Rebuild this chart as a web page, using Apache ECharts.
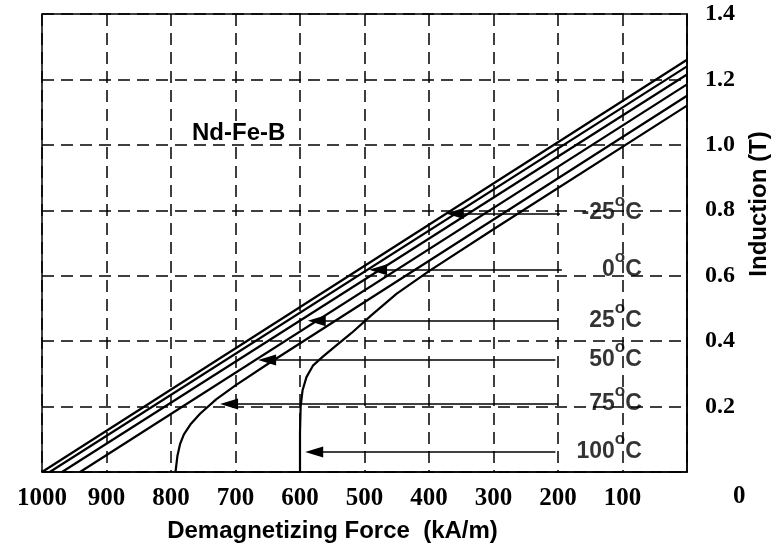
<!DOCTYPE html>
<html>
<head>
<meta charset="utf-8">
<script src="https://cdn.jsdelivr.net/npm/echarts@6/dist/echarts.min.js"></script>
<style>
  html, body { margin: 0; padding: 0; background: #fff; }
  #chart { width: 776px; height: 550px; }
</style>
</head>
<body>
<div id="chart"></div>
<script>
// demagnetization curves of Nd-Fe-B at several temperatures
// H in kA/m (axis runs 1000 -> 0), B in T
var tempLabels = ['-25', '0', '25', '50', '75', '100'];

var curveM25 = [[0, 1.26], [1000, 0]];
var curve0 = [[0, 1.24], [988, 0]];
var curve25 = [[0, 1.215], [969, 0]];
var curve50 = [[0, 1.185], [941, 0]];
var curve75 = [[0, 1.15], [650, 0.33], [700, 0.265], [730, 0.222], [755, 0.178], [770, 0.145],
               [780, 0.115], [786, 0.085], [790, 0.05], [793, 0]];
var curve100 = [[0, 1.12], [300, 0.742], [400, 0.614], [450, 0.545], [490, 0.478], [520, 0.425],
                [545, 0.385], [565, 0.352], [580, 0.325], [590, 0.29], [596, 0.25], [599, 0.2],
                [600, 0.12], [600, 0]];

// pointer arrows: level B, start (arrow) H, end H
var pointerB = [0.79, 0.618, 0.462, 0.342, 0.208, 0.061];
var pointerStartH = [360, 479, 574, 651, 710, 578];
var pointerEndH = [197, 194, 200, 204, 200, 204];

var xTicks = [1000, 900, 800, 700, 600, 500, 400, 300, 200, 100, 0];
var yTicks = [0, 0.2, 0.4, 0.6, 0.8, 1.0, 1.2, 1.4];

var chart = echarts.init(document.getElementById('chart'));

var sans = '"Liberation Sans", Arial, sans-serif';
var serif = '"Liberation Serif", "Times New Roman", serif';

var curves = [curveM25, curve0, curve25, curve50, curve75, curve100];

var series = curves.map(function (c, i) {
    return {
        name: tempLabels[i] + '°C',
        type: 'line',
        data: c,
        symbol: 'none',
        lineStyle: { color: '#000', width: 2.2 },
        markLine: {
            silent: true,
            symbol: ['triangle', 'none'],
            symbolSize: [11, 18],
            lineStyle: { color: '#000', width: 1.5, type: 'solid' },
            label: { show: false },
            data: [[{ coord: [pointerStartH[i], pointerB[i]] }, { coord: [pointerEndH[i], pointerB[i]] }]]
        }
    };
});

// temperature labels next to the pointers
series.push({
    type: 'scatter',
    symbolSize: 0,
    silent: true,
    data: pointerB.map(function (b) { return [70, b]; }),
    label: {
        show: true,
        position: 'left',
        distance: 0,
        offset: [0, -5],
        formatter: function (p) {
            return '{t|' + tempLabels[p.dataIndex] + '}{s|o}{t|C}';
        },
        rich: {
            t: { fontFamily: sans, fontWeight: 'bold', fontSize: 23, color: '#000', lineHeight: 32, verticalAlign: 'bottom' },
            s: { fontFamily: sans, fontWeight: 'bold', fontSize: 17, color: '#000', verticalAlign: 'top' }
        }
    }
});

var option = {
    animation: false,
    backgroundColor: '#fff',
    grid: {
        left: 42, right: 89, top: 14, bottom: 78,
        outerBoundsMode: 'none',
        containLabel: false,
        show: true, borderColor: '#000', borderWidth: 1.5
    },
    xAxis: {
        type: 'value',
        inverse: true,
        min: 0, max: 1000, interval: 100,
        name: 'Demagnetizing Force  (kA/m)',
        nameLocation: 'middle',
        nameGap: 47,
        nameTextStyle: {
            fontFamily: sans, fontWeight: 'bold', fontSize: 24, color: '#000',
            padding: [0, 64, 0, 0]
        },
        axisLine: { lineStyle: { color: '#000', width: 1.5 } },
        axisTick: { show: false },
        axisLabel: {
            margin: 14,
            fontFamily: serif, fontWeight: 'bold', fontSize: 25, color: '#000',
            formatter: function (v) { return xTicks.indexOf(v) >= 0 && v !== 0 ? String(v) : ''; }
        },
        splitLine: { lineStyle: { color: '#000', width: 1.5, type: [12, 7] } }
    },
    yAxis: {
        type: 'value',
        position: 'right',
        min: 0, max: 1.4, interval: 0.2,
        name: 'Induction (T)',
        nameLocation: 'middle',
        nameGap: 60,
        nameTextStyle: {
            fontFamily: sans, fontWeight: 'bold', fontSize: 24, color: '#000',
            padding: [0, 0, 0, 78]
        },
        axisLine: { show: true, lineStyle: { color: '#000', width: 1.5 } },
        axisTick: { show: false },
        axisLabel: {
            margin: 18,
            fontFamily: serif, fontWeight: 'bold', fontSize: 24, color: '#000',
            formatter: function (v) { return v === 0 ? '' : v.toFixed(1); }
        },
        splitLine: { lineStyle: { color: '#000', width: 1.5, type: [12, 7] } }
    },
    graphic: [
        {
            type: 'text', left: 192, top: 121,
            style: { text: 'Nd-Fe-B', font: 'bold 24px ' + sans, fill: '#000' }
        },
        {
            type: 'text', left: 733, top: 484,
            style: { text: '0', font: 'bold 25px ' + serif, fill: '#000' }
        }
    ],
    series: series
};

chart.setOption(option);
</script>
</body>
</html>
